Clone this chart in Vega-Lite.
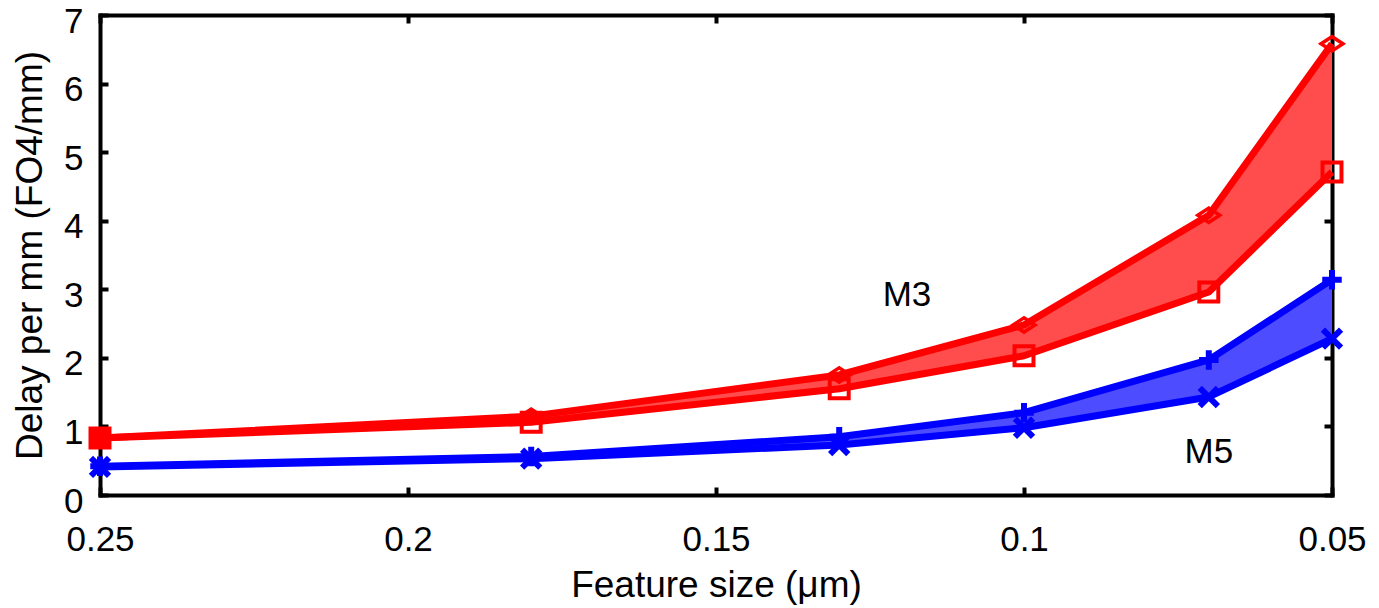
{
  "$schema": "https://vega.github.io/schema/vega-lite/v6.json",
  "width": 1232,
  "height": 480,
  "autosize": "none",
  "padding": {"left": 100, "top": 15, "right": 47, "bottom": 113},
  "background": "white",
  "config": {
    "font": "Liberation Sans",
    "view": {"stroke": null},
    "axis": {
      "domainColor": "black",
      "domainWidth": 4,
      "domainCap": "square",
      "tickColor": "black",
      "tickWidth": 4,
      "tickSize": -8,
      "grid": false,
      "labelFont": "Liberation Sans",
      "labelFontSize": 35,
      "labelColor": "black",
      "titleFont": "Liberation Sans",
      "titleFontSize": 37,
      "titleFontWeight": "normal",
      "titleColor": "black"
    }
  },
  "datasets": {
    "wide": [
      {"x": 0.25, "metal": "M3", "hi": 0.83, "lo": 0.83},
      {"x": 0.18, "metal": "M3", "hi": 1.15, "lo": 1.06},
      {"x": 0.13, "metal": "M3", "hi": 1.75, "lo": 1.55},
      {"x": 0.10, "metal": "M3", "hi": 2.48, "lo": 2.03},
      {"x": 0.07, "metal": "M3", "hi": 4.08, "lo": 2.96},
      {"x": 0.05, "metal": "M3", "hi": 6.58, "lo": 4.71},
      {"x": 0.25, "metal": "M5", "hi": 0.42, "lo": 0.41},
      {"x": 0.18, "metal": "M5", "hi": 0.56, "lo": 0.53},
      {"x": 0.13, "metal": "M5", "hi": 0.85, "lo": 0.73},
      {"x": 0.10, "metal": "M5", "hi": 1.20, "lo": 0.98},
      {"x": 0.07, "metal": "M5", "hi": 1.97, "lo": 1.43},
      {"x": 0.05, "metal": "M5", "hi": 3.14, "lo": 2.28}
    ],
    "labels": [
      {"x": 0.119, "y": 2.92, "text": "M3"},
      {"x": 0.07, "y": 0.63, "text": "M5"}
    ]
  },
  "data": {"name": "wide"},
  "layer": [
    {
      "mark": {"type": "area", "opacity": 1},
      "encoding": {
        "x": {
          "field": "x", "type": "quantitative",
          "scale": {"domain": [0.05, 0.25], "reverse": true, "nice": false, "zero": false},
          "axis": {"orient": "bottom", "values": [0.05, 0.1, 0.15, 0.2, 0.25], "format": "~g", "labelPadding": 35, "title": "Feature size (μm)", "titlePadding": 10, "labelFlush": false}
        },
        "y": {
          "field": "hi", "type": "quantitative",
          "scale": {"domain": [0, 7], "nice": false},
          "axis": {"orient": "left", "values": [0, 1, 2, 3, 4, 5, 6, 7], "labelPadding": 25, "labelOffset": 6, "labelFlush": false, "title": "Delay per mm (FO4/mm)", "titlePadding": 14}
        },
        "y2": {"field": "lo"},
        "fill": {"field": "metal", "type": "nominal", "scale": {"domain": ["M3", "M5"], "range": ["#ff4d4d", "#4d4dff"]}, "legend": null}
      }
    },
    {
      "transform": [{"fold": ["hi", "lo"], "as": ["bound", "val"]}],
      "mark": {"type": "line", "strokeWidth": 7, "strokeJoin": "round"},
      "encoding": {
        "x": {"field": "x", "type": "quantitative", "axis": {"orient": "top", "values": [0.05, 0.1, 0.15, 0.2, 0.25], "labels": false, "title": null}},
        "y": {"field": "val", "type": "quantitative", "axis": {"orient": "right", "values": [0, 1, 2, 3, 4, 5, 6, 7], "labels": false, "title": null}},
        "stroke": {"field": "metal", "type": "nominal", "scale": {"domain": ["M3", "M5"], "range": ["#ff0000", "#0000ff"]}, "legend": null},
        "detail": {"field": "bound"}
      }
    },
    {
      "transform": [{"filter": "datum.metal === 'M3'"}],
      "mark": {"type": "point", "shape": "square", "filled": false, "strokeWidth": 4, "size": 360, "color": "#ff0000", "opacity": 1},
      "encoding": {
        "x": {"field": "x", "type": "quantitative", "axis": null},
        "y": {"field": "lo", "type": "quantitative", "axis": null}
      }
    },
    {
      "transform": [{"filter": "datum.metal === 'M3' && datum.x === 0.25"}],
      "mark": {"type": "point", "shape": "square", "filled": true, "size": 420, "color": "#ff0000", "opacity": 1},
      "encoding": {
        "x": {"field": "x", "type": "quantitative", "axis": null},
        "y": {"field": "lo", "type": "quantitative", "axis": null}
      }
    },
    {
      "transform": [{"filter": "datum.metal === 'M3' && datum.x !== 0.25"}],
      "mark": {"type": "point", "shape": "M-1,0L0,-0.65L1,0L0,0.65Z", "filled": false, "strokeWidth": 3.5, "size": 480, "color": "#ff0000", "opacity": 1},
      "encoding": {
        "x": {"field": "x", "type": "quantitative", "axis": null},
        "y": {"field": "hi", "type": "quantitative", "axis": null}
      }
    },
    {
      "transform": [{"filter": "datum.metal === 'M5'"}],
      "mark": {"type": "point", "shape": "M-1,0L1,0M0,-1L0,1", "filled": false, "strokeWidth": 6, "size": 380, "color": "#0000ff", "opacity": 1},
      "encoding": {
        "x": {"field": "x", "type": "quantitative", "axis": null},
        "y": {"field": "hi", "type": "quantitative", "axis": null}
      }
    },
    {
      "transform": [{"filter": "datum.metal === 'M5'"}],
      "mark": {"type": "point", "shape": "M-1,-1L1,1M-1,1L1,-1", "filled": false, "strokeWidth": 6, "size": 330, "color": "#0000ff", "opacity": 1},
      "encoding": {
        "x": {"field": "x", "type": "quantitative", "axis": null},
        "y": {"field": "lo", "type": "quantitative", "axis": null}
      }
    },
    {
      "data": {"name": "labels"},
      "mark": {"type": "text", "fontSize": 35, "font": "Liberation Sans", "color": "black", "align": "center", "baseline": "middle"},
      "encoding": {
        "x": {"field": "x", "type": "quantitative", "axis": null},
        "y": {"field": "y", "type": "quantitative", "axis": null},
        "text": {"field": "text"}
      }
    }
  ]
}
